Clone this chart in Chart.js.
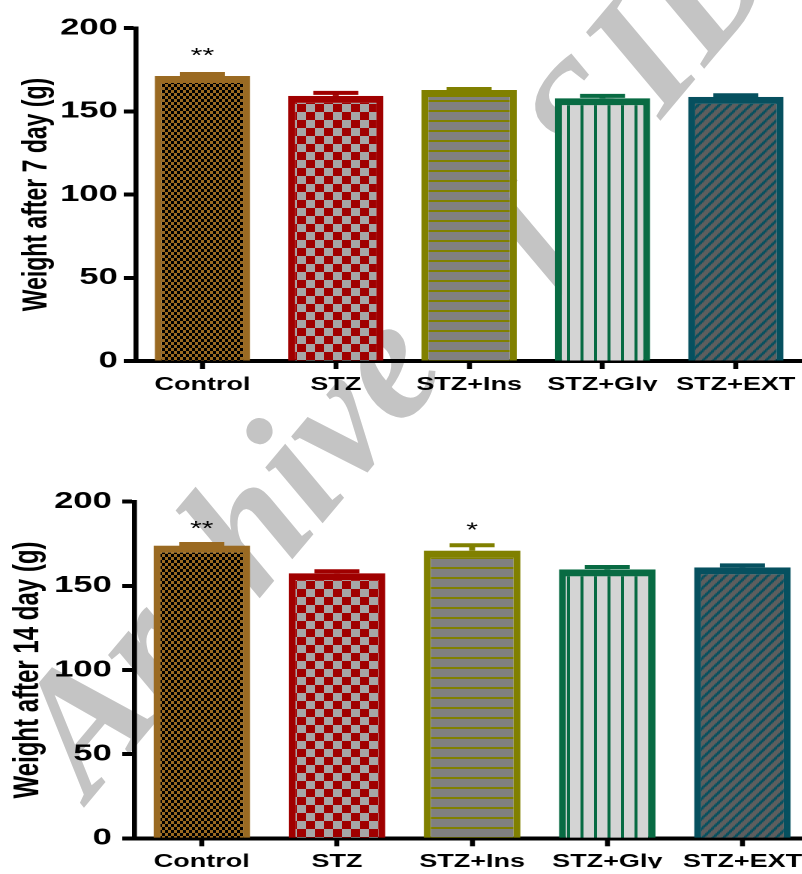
<!DOCTYPE html>
<html>
<head>
<meta charset="utf-8">
<script src="https://cdn.jsdelivr.net/npm/chart.js@4"></script>
<style>
  html, body { margin: 0; padding: 0; width: 802px; height: 874px; overflow: hidden; background: #fff; }
  .mark {
    position: absolute; left: 96px; top: 806px;
    font: italic bold 174px "Liberation Serif", serif; color: #c4c4c4;
    white-space: nowrap; line-height: 1;
    transform-origin: 0 0; transform: rotate(-50deg) translate(0, -0.88em);
  }
  .panel { position: absolute; left: 0; transform-origin: 0 0; transform: scaleX(1.5); }
</style>
</head>
<body>
<div class="mark">Archive of SID</div>
<div class="panel" style="top:0"><canvas id="day7" width="535" height="437"></canvas></div>
<div class="panel" style="top:437px"><canvas id="day14" width="540" height="437"></canvas></div>
<script>
const groups = ["Control", "STZ", "STZ+Ins", "STZ+Gly", "STZ+EXT"];
const yTicks = [0, 50, 100, 150, 200];

// weight after 7 days (mean, sem)
const day7Mean = [171.2, 159.2, 162.8, 157.8, 158.6];
const day7Sem = [1.2, 1.8, 0.6, 1.4, 1.0];
const day7Stars = ["**", "", "", "", ""];

// weight after 14 days
const day14Mean = [173.9, 157.5, 170.9, 159.8, 161.0];
const day14Sem = [1.0, 1.2, 3.2, 1.4, 1.2];
const day14Stars = ["**", "", "*", "", ""];

const edgeColors = ["#9A6A22", "#A00000", "#808000", "#086B43", "#06505F"];

Chart.defaults.font.family = '"Liberation Sans", Arial, sans-serif';
Chart.defaults.color = "#000";

function makePattern(w, h, draw) {
  const c = document.createElement("canvas");
  c.width = w; c.height = h;
  const g = c.getContext("2d");
  draw(g, w, h);
  return g.createPattern(c, "repeat");
}

function fills() {
  return [
    makePattern(4, 6, (g) => {
      g.fillStyle = edgeColors[0]; g.fillRect(0, 0, 4, 6);
      g.fillStyle = "#000"; g.fillRect(0, 0, 2, 3); g.fillRect(2, 3, 2, 3);
    }),
    makePattern(12, 16, (g) => {
      g.fillStyle = "#A6A6A6"; g.fillRect(0, 0, 12, 16);
      g.fillStyle = edgeColors[1]; g.fillRect(0, 0, 6, 8); g.fillRect(6, 8, 6, 8);
    }),
    makePattern(1, 10, (g) => {
      g.fillStyle = "#808080"; g.fillRect(0, 0, 1, 10);
      g.fillStyle = edgeColors[2]; g.fillRect(0, 0, 1, 2);
    }),
    makePattern(9, 1, (g) => {
      g.fillStyle = "#D4D4D4"; g.fillRect(0, 0, 9, 1);
      g.fillStyle = edgeColors[3]; g.fillRect(0, 0, 2, 1);
    }),
    makePattern(7, 10, (g, w, h) => {
      g.fillStyle = "#5E5E5E"; g.fillRect(0, 0, w, h);
      g.strokeStyle = edgeColors[4]; g.lineWidth = 2;
      g.beginPath();
      g.moveTo(0, h); g.lineTo(w, 0);
      g.moveTo(-w, h); g.lineTo(0, 0);
      g.moveTo(w, 2 * h); g.lineTo(2 * w, h);
      g.moveTo(0, 2 * h); g.lineTo(2 * w, 0);
      g.moveTo(-w, 2 * h); g.lineTo(w, 0);
      g.stroke();
    })
  ];
}

function errorBars(means, sems, stars, starGap) {
  return {
    id: "errorBars",
    beforeDatasetsDraw(chart) {
      chart.ctx.imageSmoothingEnabled = false;
    },
    afterDatasetsDraw(chart) {
      const { ctx, scales: { x, y } } = chart;
      ctx.save();
      means.forEach((m, i) => {
        const cx = x.getPixelForValue(i);
        const yBar = y.getPixelForValue(m);
        const yTop = y.getPixelForValue(m + sems[i]);
        ctx.strokeStyle = edgeColors[i];
        ctx.lineWidth = 4;
        ctx.beginPath(); ctx.moveTo(cx, yBar); ctx.lineTo(cx, yTop); ctx.stroke();
        ctx.beginPath(); ctx.moveTo(cx - 15, yTop); ctx.lineTo(cx + 15, yTop); ctx.stroke();
        if (stars[i]) {
          ctx.fillStyle = "#000";
          ctx.font = '20px "Liberation Sans", Arial, sans-serif';
          ctx.textAlign = "center";
          ctx.textBaseline = "alphabetic";
          ctx.fillText(stars[i], cx, yTop - 2 - starGap);
        }
      });
      ctx.restore();
      ctx.imageSmoothingEnabled = true;
    }
  };
}

function drawPanel(id, title, means, sems, stars, lay) {
  new Chart(document.getElementById(id), {
    type: "bar",
    data: {
      labels: groups,
      datasets: [{
        data: means,
        backgroundColor: fills(),
        borderColor: edgeColors,
        borderWidth: { top: 7, left: 4.7, right: 4.7, bottom: 0 },
        borderSkipped: "start",
        barPercentage: 0.715,
        categoryPercentage: 1
      }]
    },
    options: {
      responsive: false,
      animation: false,
      devicePixelRatio: 2,
      layout: { padding: { top: lay.top, bottom: lay.bottom, left: 0, right: 0 } },
      plugins: { legend: { display: false }, tooltip: { enabled: false } },
      scales: {
        x: {
          z: 1,
          ticks: { font: { size: 18, weight: "bold" }, color: "#000", padding: 5 },
          grid: { display: true, offset: false, drawOnChartArea: false, tickLength: 8, tickWidth: 3.3, tickColor: "#000" },
          border: { color: "#000", width: 4 },
          afterFit: (s) => { s.height = 30; s.paddingLeft = 0; s.paddingRight = 0; }
        },
        y: {
          z: 1,
          min: 0, max: 200,
          afterBuildTicks: (s) => { s.ticks = yTicks.map((v) => ({ value: v })); },
          ticks: { font: { size: 23, weight: "bold" }, color: "#000", padding: lay.tickPad },
          grid: { display: true, drawOnChartArea: false, tickLength: 8, tickWidth: 4, tickColor: "#000" },
          border: { color: "#000", width: 3.3 },
          title: {
            display: true, text: title, color: "#000",
            font: { size: lay.titleSize, weight: "bold" },
            padding: { top: lay.titlePad, bottom: 0 }
          },
          afterFit: (s) => { s.width = lay.axisWidth; s.paddingTop = 0; s.paddingBottom = 0; }
        }
      }
    },
    plugins: [errorBars(means, sems, stars, lay.starGap)]
  });
}

drawPanel("day7", "Weight after 7 day (g)", day7Mean, day7Sem, day7Stars,
  { top: 28, bottom: 46, axisWidth: 90.5, titleSize: 23, titlePad: 11, tickPad: 4, starGap: 10 });
drawPanel("day14", "Weight after 14 day (g)", day14Mean, day14Sem, day14Stars,
  { top: 64.7, bottom: 5.7, axisWidth: 89.5, titleSize: 24, titlePad: 4.3, tickPad: 7, starGap: 7 });
</script>
</body>
</html>
